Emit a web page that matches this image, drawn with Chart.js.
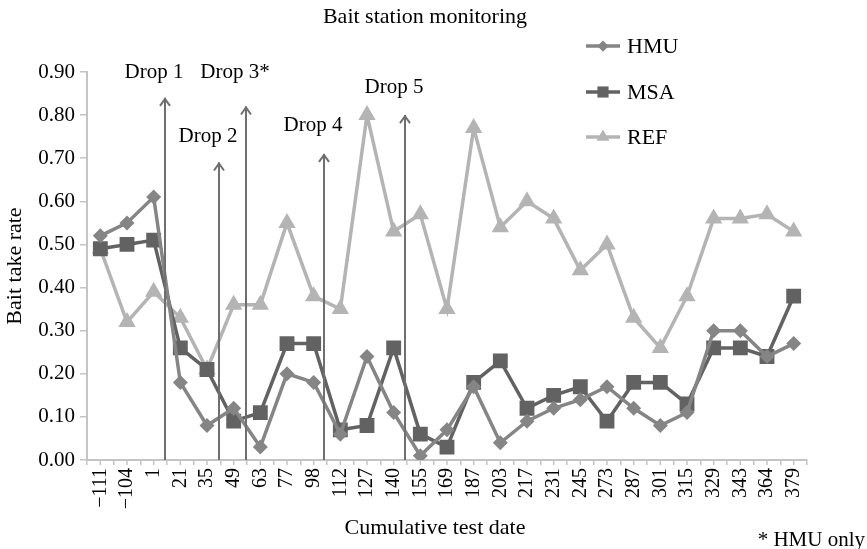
<!DOCTYPE html>
<html>
<head>
<meta charset="utf-8">
<script src="https://cdn.jsdelivr.net/npm/chart.js@4/dist/chart.umd.min.js"></script>
<style>
  html, body { margin: 0; padding: 0; background: #fff; }
</style>
</head>
<body>
<canvas id="chart" width="867" height="549"></canvas>
<script>
// Cumulative test dates (x categories)
const testDates = ['\u2212111', '\u2212104', '1', '21', '35', '49', '63', '77', '98', '112', '127', '140', '155', '169',
  '187', '203', '217', '231', '245', '273', '287', '301', '315', '329', '343', '364', '379'];

// Bait take rate per group
const hmuRates = [0.52, 0.55, 0.61, 0.18, 0.08, 0.12, 0.03, 0.20, 0.18, 0.06, 0.24, 0.11, 0.01, 0.07,
  0.17, 0.04, 0.09, 0.12, 0.14, 0.17, 0.12, 0.08, 0.11, 0.30, 0.30, 0.24, 0.27];
const msaRates = [0.49, 0.50, 0.51, 0.26, 0.21, 0.09, 0.11, 0.27, 0.27, 0.07, 0.08, 0.26, 0.06, 0.03,
  0.18, 0.23, 0.12, 0.15, 0.17, 0.09, 0.18, 0.18, 0.13, 0.26, 0.26, 0.24, 0.38];
const refRates = [0.49, 0.32, 0.39, 0.33, 0.21, 0.36, 0.36, 0.55, 0.38, 0.35, 0.80, 0.53, 0.57, 0.35,
  0.77, 0.54, 0.60, 0.56, 0.44, 0.50, 0.33, 0.26, 0.38, 0.56, 0.56, 0.57, 0.53];

// Y axis range
const yMin = 0;
const yMax = 0.9;
const yStep = 0.1;

// Bait drops: label, where it falls between test dates (category index),
// arrow top and label level (both as bait take rate)
const dropLabels = ['Drop 1', 'Drop 2', 'Drop 3*', 'Drop 4', 'Drop 5'];
const dropPositions = [2.44, 4.46, 5.47, 8.40, 11.43];
const dropTops = [0.84, 0.69, 0.82, 0.71, 0.80];
const dropLabelLevels = [0.90, 0.75, 0.90, 0.775, 0.865];

const SERIF = "'Liberation Serif', 'Times New Roman', serif";
const AXIS_GREY = '#c4c4c4';
const INK = '#000';

// Extra drawing: half-step x ticks, drop arrows, title, legend, footnote
const extrasPlugin = {
  id: 'extras',
  afterDatasetsDraw(chart) {
    const ctx = chart.ctx;
    const xs = chart.scales.x;
    const ys = chart.scales.y;
    const bottom = chart.chartArea.bottom;
    ctx.save();
    ctx.strokeStyle = '#6f6f6f';
    ctx.lineWidth = 2;
    ctx.fillStyle = INK;
    ctx.font = '21px ' + SERIF;
    ctx.textAlign = 'center';
    ctx.textBaseline = 'middle';
    dropLabels.forEach((label, i) => {
      const x = Math.round(xs.getPixelForValue(dropPositions[i]));
      const yTop = ys.getPixelForValue(dropTops[i]);
      ctx.beginPath();
      ctx.moveTo(x, bottom);
      ctx.lineTo(x, yTop);
      ctx.stroke();
      ctx.beginPath();
      ctx.moveTo(x - 5, yTop + 8);
      ctx.lineTo(x, yTop + 1);
      ctx.lineTo(x + 5, yTop + 8);
      ctx.stroke();
      ctx.fillText(label, x - 11, ys.getPixelForValue(dropLabelLevels[i]));
    });
    ctx.restore();
  },
  afterDraw(chart) {
    const ctx = chart.ctx;
    const xs = chart.scales.x;
    const area = chart.chartArea;
    ctx.save();

    // tick marks at category centres
    ctx.strokeStyle = AXIS_GREY;
    ctx.lineWidth = 1.5;
    testDates.forEach((d, i) => {
      const x = xs.getPixelForValue(i);
      ctx.beginPath();
      ctx.moveTo(x, area.bottom);
      ctx.lineTo(x, area.bottom + 5);
      ctx.stroke();
    });

    // title
    ctx.fillStyle = INK;
    ctx.font = '22px ' + SERIF;
    ctx.textAlign = 'center';
    ctx.textBaseline = 'middle';
    ctx.fillText('Bait station monitoring', (area.left + area.right) / 2 - 22, 17);

    // legend
    const rowY = [46, 92, 137];
    chart.data.datasets.forEach((ds, i) => {
      const y = rowY[i];
      ctx.strokeStyle = ds.borderColor;
      ctx.lineWidth = ds.borderWidth;
      ctx.beginPath();
      ctx.moveTo(586, y);
      ctx.lineTo(620, y);
      ctx.stroke();
      ctx.fillStyle = ds.backgroundColor;
      drawMarker(ctx, ds.pointStyle, 603, y, ds.pointRadius * 0.75);
      ctx.fillStyle = INK;
      ctx.textAlign = 'left';
      ctx.fillText(ds.label, 627, y + 1);
    });

    // x axis title and footnote
    ctx.font = '22px ' + SERIF;
    ctx.textAlign = 'center';
    ctx.fillText('Cumulative test date', (area.left + area.right) / 2 - 12, 528);
    ctx.font = '21px ' + SERIF;
    ctx.textAlign = 'right';
    ctx.fillText('* HMU only', 865, 540);
    ctx.restore();
  }
};

function drawMarker(ctx, style, x, y, r) {
  ctx.beginPath();
  if (style === 'rect') {
    const s = r * Math.SQRT1_2;
    ctx.rect(x - s, y - s, 2 * s, 2 * s);
  } else if (style === 'rectRot') {
    ctx.moveTo(x, y - r);
    ctx.lineTo(x + r, y);
    ctx.lineTo(x, y + r);
    ctx.lineTo(x - r, y);
    ctx.closePath();
  } else {
    ctx.moveTo(x, y - r);
    ctx.lineTo(x + r * 0.866, y + r / 2);
    ctx.lineTo(x - r * 0.866, y + r / 2);
    ctx.closePath();
  }
  ctx.fill();
}

Chart.defaults.font.family = SERIF;
Chart.defaults.color = INK;

new Chart(document.getElementById('chart'), {
  type: 'line',
  data: {
    labels: testDates,
    datasets: [
      {
        label: 'HMU',
        data: hmuRates,
        borderColor: '#858585',
        backgroundColor: '#858585',
        borderWidth: 3.5,
        pointStyle: 'rectRot',
        pointRadius: 7.5,
        pointBorderWidth: 0,
        tension: 0
      },
      {
        label: 'MSA',
        data: msaRates,
        borderColor: '#626262',
        backgroundColor: '#626262',
        borderWidth: 3.5,
        pointStyle: 'rect',
        pointRadius: 10.5,
        pointBorderWidth: 0,
        tension: 0
      },
      {
        label: 'REF',
        data: refRates,
        borderColor: '#b4b4b4',
        backgroundColor: '#b4b4b4',
        borderWidth: 3.5,
        pointStyle: 'triangle',
        pointRadius: 10,
        pointBorderWidth: 0,
        tension: 0
      }
    ]
  },
  options: {
    responsive: false,
    animation: false,
    layout: { padding: { top: 72, right: 60, left: 0, bottom: 0 } },
    plugins: {
      legend: { display: false },
      title: { display: false },
      tooltip: { enabled: false }
    },
    scales: {
      x: {
        offset: true,
        afterFit: (s) => { s.height = 89; },
        grid: { offset: true, drawOnChartArea: false, drawTicks: true, tickLength: 5, color: AXIS_GREY, lineWidth: 1.5 },
        border: { display: true, color: AXIS_GREY, width: 2 },
        ticks: { autoSkip: false, maxRotation: 90, minRotation: 90, padding: 3, font: { size: 20 }, color: INK },
        title: { display: false }
      },
      y: {
        min: yMin,
        max: yMax,
        afterFit: (s) => { s.width = 87; },
        grid: { drawOnChartArea: false, drawTicks: true, tickLength: 7, color: AXIS_GREY, lineWidth: 1.5 },
        border: { display: true, color: AXIS_GREY, width: 2 },
        ticks: { stepSize: yStep, padding: 5, font: { size: 21 }, color: INK, callback: (v) => v.toFixed(2) },
        title: { display: true, text: 'Bait take rate', font: { size: 22 }, padding: { top: 2, bottom: 4 }, color: INK }
      }
    }
  },
  plugins: [extrasPlugin]
});
</script>
</body>
</html>
